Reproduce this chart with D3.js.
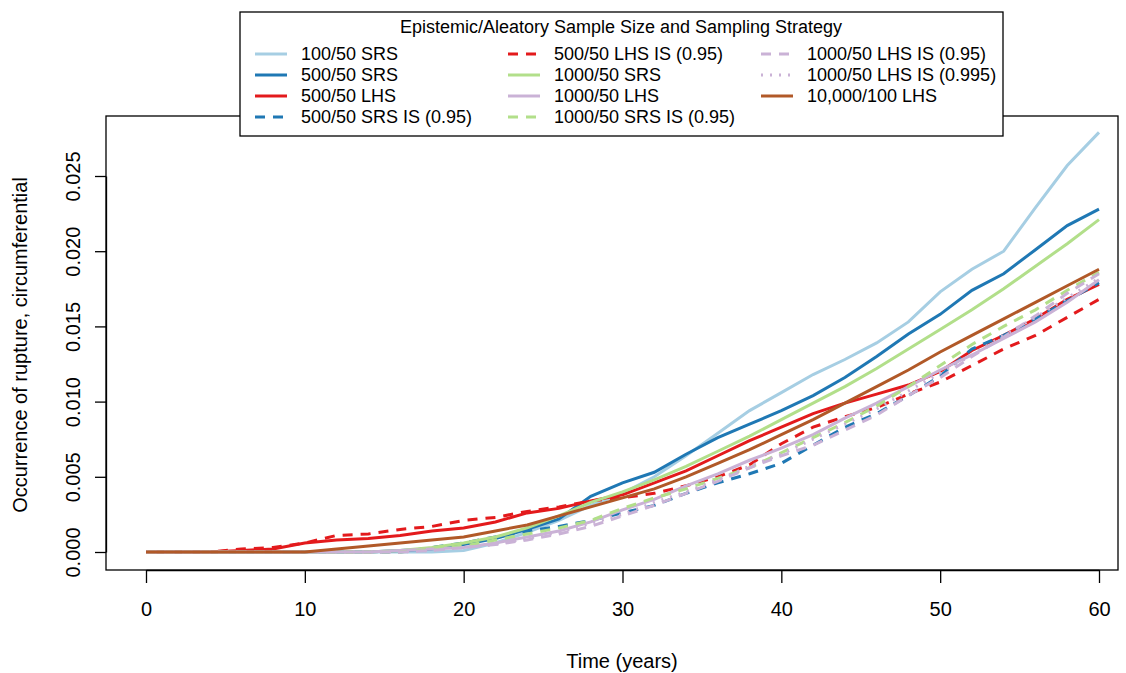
<!DOCTYPE html>
<html lang="en">
<head>
<meta charset="UTF-8">
<title>Rupture occurrence</title>
<script src="https://d3js.org/d3.v7.min.js"></script>
<style>
    body { margin: 0; background: #fff; }
    svg { font-family: "Liberation Sans", Arial, sans-serif; }
</style>
</head>
<body>
<svg width="1126" height="673" id="chart"></svg>
<script>
    // time grid (years)
    const times = d3.range(0, 61, 2);

    // series values, one per time
    const srs100 = [0,0,0,0,0,0,0,0,0,0, 0.0001,0.0006,0.0013,0.0021,0.0031,0.0039,0.0050,0.0064,0.0079,0.0094,0.0106,0.0118,0.0128,0.0139,0.0153,0.0173,0.0188,0.0200,0.0229,0.0257,0.0279];
    const srs500 = [0,0,0,0,0,0,0,0, 0.0001,0.0002,0.0005,0.0009,0.0015,0.0022,0.0037,0.0046,0.0053,0.0065,0.0076,0.0085,0.0094,0.0104,0.0116,0.0130,0.0145,0.0158,0.0174,0.0185,0.0201,0.0217,0.0228];
    const lhs500 = [0,0,0, 0.0001,0.0002,0.0006,0.0008,0.0009,0.0011,0.0014,0.0016,0.0020,0.0026,0.0029,0.0034,0.0038,0.0046,0.0054,0.0064,0.0074,0.0083,0.0092,0.0099,0.0105,0.0111,0.0120,0.0134,0.0144,0.0155,0.0168,0.0178];
    const srsIs500 = [0,0,0,0,0,0,0,0,0, 0.0003,0.0006,0.0010,0.0014,0.0017,0.0021,0.0026,0.0031,0.0039,0.0046,0.0052,0.0059,0.0071,0.0083,0.0092,0.0104,0.0117,0.0135,0.0144,0.0155,0.0167,0.0179];
    const lhsIs500 = [0,0,0, 0.0002,0.0003,0.0006,0.0011,0.0012,0.0015,0.0017,0.0021,0.0023,0.0027,0.0030,0.0034,0.0036,0.0039,0.0044,0.0050,0.0058,0.0072,0.0083,0.0090,0.0096,0.0105,0.0113,0.0124,0.0135,0.0144,0.0156,0.0168];
    const srs1000 = [0,0,0,0,0,0,0,0, 0.0001,0.0003,0.0006,0.0010,0.0016,0.0024,0.0033,0.0040,0.0048,0.0057,0.0067,0.0077,0.0088,0.0099,0.0110,0.0122,0.0135,0.0148,0.0161,0.0175,0.0190,0.0205,0.0221];
    const lhs1000 = [0,0,0,0,0,0,0,0, 0.0001,0.0002,0.0003,0.0006,0.0010,0.0014,0.0020,0.0028,0.0035,0.0044,0.0052,0.0061,0.0069,0.0078,0.0089,0.0099,0.0110,0.0121,0.0131,0.0142,0.0153,0.0166,0.0181];
    const srsIs1000 = [0,0,0,0,0,0,0,0,0, 0.0002,0.0004,0.0008,0.0012,0.0016,0.0021,0.0029,0.0036,0.0042,0.0049,0.0056,0.0066,0.0076,0.0086,0.0097,0.0110,0.0124,0.0138,0.0150,0.0161,0.0174,0.0186];
    const lhsIs1000 = [0,0,0,0,0,0,0,0,0, 0.0001,0.0003,0.0005,0.0008,0.0012,0.0017,0.0024,0.0031,0.0039,0.0047,0.0056,0.0064,0.0071,0.0081,0.0091,0.0104,0.0116,0.0130,0.0143,0.0157,0.0172,0.0185];
    const lhsIs1000b = [0,0,0,0,0,0,0,0,0, 0.0001,0.0003,0.0005,0.0009,0.0013,0.0019,0.0025,0.0033,0.0040,0.0048,0.0057,0.0065,0.0075,0.0085,0.0095,0.0107,0.0119,0.0131,0.0144,0.0156,0.0169,0.0182];
    const lhs10000 = [0,0,0,0,0,0, 0.0002,0.0004,0.0006,0.0008,0.0010,0.0014,0.0018,0.0024,0.0030,0.0036,0.0042,0.0050,0.0059,0.0068,0.0078,0.0088,0.0099,0.0110,0.0121,0.0133,0.0144,0.0155,0.0166,0.0177,0.0188];

    const labels = ["100/50 SRS", "500/50 SRS", "500/50 LHS", "500/50 SRS IS (0.95)",
        "500/50 LHS IS (0.95)", "1000/50 SRS", "1000/50 LHS", "1000/50 SRS IS (0.95)",
        "1000/50 LHS IS (0.95)", "1000/50 LHS IS (0.995)", "10,000/100 LHS"];
    const values = [srs100, srs500, lhs500, srsIs500, lhsIs500, srs1000, lhs1000,
        srsIs1000, lhsIs1000, lhsIs1000b, lhs10000];
    const colors = ["#A6CEE3", "#1F78B4", "#E31A1C", "#1F78B4", "#E31A1C", "#B2DF8A",
        "#CAB2D6", "#B2DF8A", "#CAB2D6", "#CAB2D6", "#B15928"];
    const dashes = ["", "", "", "10,8", "10,8", "", "", "10,8", "10,8", "2,7", ""];

    const xTicks = [0, 10, 20, 30, 40, 50, 60];
    const yTicks = [0, 0.005, 0.01, 0.015, 0.02, 0.025];

    const svg = d3.select("#chart");

    const x = d3.scaleLinear().domain([0, 60]).range([146, 1099]);
    const y = d3.scaleLinear().domain([0, 0.025]).range([552, 176]);

    // plot box
    svg.append("rect")
        .attr("x", 106).attr("y", 116)
        .attr("width", 1012).attr("height", 454)
        .attr("fill", "none").attr("stroke", "#000").attr("stroke-width", 1.3);

    // x axis
    const xAxis = svg.append("g")
        .attr("transform", "translate(0,570)")
        .call(d3.axisBottom(x).tickValues(xTicks).tickSize(13).tickSizeOuter(0).tickPadding(19));
    xAxis.selectAll("text").attr("font-size", 20).attr("fill", "#000").attr("font-family", null);
    xAxis.selectAll("line, path").attr("stroke", "#000").attr("stroke-width", 1.3);

    // y axis
    const yAxis = svg.append("g")
        .attr("transform", "translate(106,0)")
        .call(d3.axisLeft(y).tickValues(yTicks).tickSize(11).tickSizeOuter(0).tickFormat(d3.format(".3f")));
    yAxis.selectAll("text")
        .attr("font-size", 20).attr("fill", "#000").attr("font-family", null)
        .attr("text-anchor", "middle").attr("x", 0).attr("dy", null)
        .attr("transform", "translate(-26,0) rotate(-90)");
    yAxis.selectAll("line, path").attr("stroke", "#000").attr("stroke-width", 1.3);

    // axis titles
    svg.append("text")
        .attr("x", 622).attr("y", 668)
        .attr("text-anchor", "middle").attr("font-size", 20)
        .text("Time (years)");
    svg.append("text")
        .attr("transform", "translate(27,345) rotate(-90)")
        .attr("text-anchor", "middle").attr("font-size", 20)
        .text("Occurrence of rupture, circumferential");

    // lines
    const line = d3.line()
        .x((d, i) => x(times[i]))
        .y(d => y(d));

    values.forEach((vals, k) => {
        svg.append("path")
            .datum(vals)
            .attr("d", line)
            .attr("fill", "none")
            .attr("stroke", colors[k])
            .attr("stroke-width", 3)
            .attr("stroke-dasharray", dashes[k] || null);
    });

    // legend
    const leg = svg.append("g");
    leg.append("rect")
        .attr("x", 240).attr("y", 12)
        .attr("width", 763).attr("height", 124)
        .attr("fill", "#fff").attr("stroke", "#000").attr("stroke-width", 1.3);
    leg.append("text")
        .attr("x", 621).attr("y", 33)
        .attr("text-anchor", "middle").attr("font-size", 18)
        .text("Epistemic/Aleatory Sample Size and Sampling Strategy");

    const colX = [255, 508, 761];
    const rowY = [54, 75, 96, 117];
    labels.forEach((lab, k) => {
        const cx = colX[Math.floor(k / 4)];
        const cy = rowY[k % 4];
        leg.append("line")
            .attr("x1", cx).attr("x2", cx + 32)
            .attr("y1", cy).attr("y2", cy)
            .attr("stroke", colors[k]).attr("stroke-width", 3)
            .attr("stroke-dasharray", dashes[k] || null);
        leg.append("text")
            .attr("x", cx + 46).attr("y", cy)
            .attr("dy", "0.36em").attr("font-size", 18)
            .text(lab);
    });
</script>
</body>
</html>
